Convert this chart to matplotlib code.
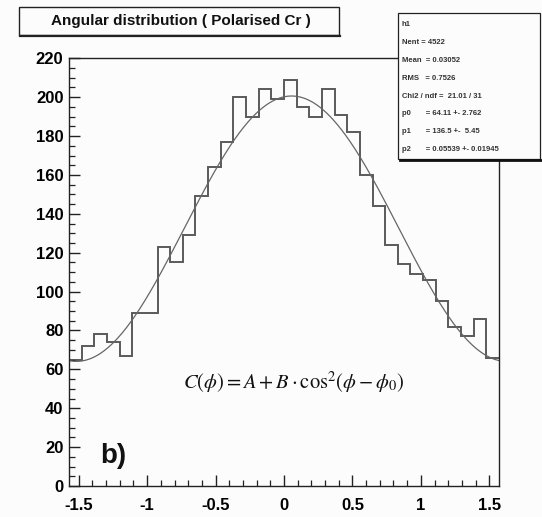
import numpy as np
import matplotlib
matplotlib.use("Agg")
import matplotlib.pyplot as plt
from matplotlib.patches import Rectangle
from matplotlib.ticker import MultipleLocator

# histogram contents, 34 bins over [-pi/2, pi/2]
counts = [65, 72, 78, 74, 67, 89, 89, 123, 115, 129, 149, 164, 177, 200, 190, 204, 199,
          209, 195, 190, 204, 191, 182, 160, 144, 124, 114, 109, 106, 95, 82, 77, 86, 66]
n_bins = 34
phi_min, phi_max = -np.pi / 2, np.pi / 2

# fit parameters from the stats box
p0, p1, p2 = 64.11, 136.5, 0.05539

title = "Angular distribution ( Polarised Cr )"
stats_lines = ["h1",
               "Nent = 4522",
               "Mean  = 0.03052",
               "RMS   = 0.7526",
               "Chi2 / ndf =  21.01 / 31",
               "p0       = 64.11 +- 2.762",
               "p1       = 136.5 +-  5.45",
               "p2       = 0.05539 +- 0.01945"]

plt.rcParams['font.family'] = ['Liberation Sans', 'DejaVu Sans']

fig = plt.figure(figsize=(5.42, 5.17), dpi=100, facecolor='#fcfcfc')
ax = fig.add_axes([69 / 542, 31 / 517, 430 / 542, 427.7 / 517])
ax.set_facecolor('#fcfcfc')

edges = np.linspace(phi_min, phi_max, n_bins + 1)
ax.stairs(counts, edges, baseline=None, color='#5a5a5a', lw=1.4)

phi = np.linspace(phi_min, phi_max, 400)
ax.plot(phi, p0 + p1 * np.cos(phi - p2) ** 2, color='#666666', lw=0.9)

ax.set_xlim(phi_min, phi_max)
ax.set_ylim(0, 220)
ax.xaxis.set_major_locator(MultipleLocator(0.5))
ax.xaxis.set_minor_locator(MultipleLocator(0.1))
ax.yaxis.set_major_locator(MultipleLocator(20))
ax.yaxis.set_minor_locator(MultipleLocator(5))
ax.xaxis.set_major_formatter(plt.FuncFormatter(lambda v, p: f"{v:g}"))
ax.tick_params(which='both', direction='in', top=False, right=False, color='#222222')
ax.tick_params(which='major', length=8, width=1)
ax.tick_params(which='minor', length=4.5, width=0.9)
ax.tick_params(axis='x', which='major', pad=9)
ax.tick_params(axis='y', which='major', pad=4)
for lab in ax.get_xticklabels() + ax.get_yticklabels():
    lab.set_fontsize(12)
    lab.set_fontweight('bold')
for sp in ax.spines.values():
    sp.set_color('#222222')
    sp.set_linewidth(1.0)

# title box
fig.patches.append(Rectangle((19 / 542, 1 - 35 / 517), 320 / 542, 28 / 517,
                             transform=fig.transFigure, facecolor='#fcfcfc',
                             edgecolor='#222222', lw=1.0))
fig.add_artist(plt.Line2D([20 / 542, 340 / 542], [1 - 35.5 / 517] * 2,
                          transform=fig.transFigure, color='#222222', lw=1.6))
fig.text(181 / 542, 1 - 21 / 517, title, ha='center', va='center',
         fontsize=11, fontweight='bold', color='#111111')

# stats box
fig.patches.append(Rectangle((398 / 542, 1 - 159 / 517), 142 / 542, 146 / 517,
                             transform=fig.transFigure, facecolor='#fcfcfc',
                             edgecolor='#222222', lw=0.9, zorder=5))
fig.add_artist(plt.Line2D([400 / 542, 541 / 542], [1 - 160 / 517] * 2,
                          transform=fig.transFigure, color='#111111', lw=2.0, zorder=6))
for i, line in enumerate(stats_lines):
    fig.text(401.5 / 542, 1 - (25 + i * 17.75) / 517, line, ha='left', va='center',
             fontsize=5.5, fontweight='bold', color='#333333', zorder=7)

# formula and panel label
fig.text(183 / 542, 1 - 389 / 517, r'$C(\phi) = A + B\cdot\mathrm{cos}^{2}(\phi - \phi_{0})$',
         fontsize=14.8, math_fontfamily='stix', color='#111111', va='baseline')
fig.text(100 / 542, 1 - 463 / 517, 'b)', fontsize=20, fontweight='bold',
         color='#111111', va='baseline')

fig.savefig("out.png", dpi=100, facecolor=fig.get_facecolor())
